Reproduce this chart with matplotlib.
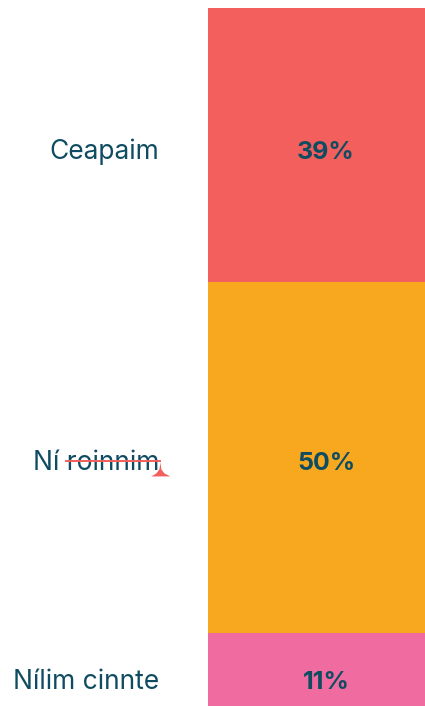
import matplotlib.pyplot as plt
from matplotlib.patches import Polygon

labels = ["Ceapaim", "Ní roinnim", "Nílim cinnte"]
values = [39.3, 50.3, 10.4]
pct_text = ["39%", "50%", "11%"]
colors = ["#F25F5C", "#F8A81E", "#F06BA0"]
text_color = "#0F4C61"

W, H = 425, 706
fig = plt.figure(figsize=(W / 100, H / 100), dpi=100)
# bar runs past the right edge of the canvas, as in the original
ax = fig.add_axes([208 / W, 0, 236 / W, 1 - 8 / H])
ax.set_xlim(0, 1)
ax.set_ylim(sum(values), 0)
ax.axis("off")

bottom = 0
centers = []
for v, c in zip(values, colors):
    ax.bar(0.5, v, width=1.0, bottom=bottom, color=c, edgecolor="none")
    centers.append(bottom + v / 2)
    bottom += v

# vertical nudges in points (labels sit a bit below segment centre)
nudge = [-5, -4, -9]
label_objs = []
for lab, pct, y, dy in zip(labels, pct_text, centers, nudge):
    ax.annotate(pct, (0.5, y), xytext=(0, dy), textcoords="offset points",
                ha="center", va="center", fontsize=18, fontweight="bold",
                family="Inter", color=text_color)
    t = ax.annotate(lab, (0, y), xytext=(-35, dy), textcoords="offset points",
                    ha="right", va="center", fontsize=19, family="Inter",
                    color=text_color, annotation_clip=False)
    label_objs.append(t)

# red strike-through over "roinnim" with a little pointer
fig.canvas.draw()
r = fig.canvas.get_renderer()
bb = label_objs[1].get_window_extent(r)
probe = fig.text(0, 0, "roinnim", fontsize=19, family="Inter")
w = probe.get_window_extent(r).width
probe.remove()
ymid = bb.y0 + bb.height * 0.5 + 2
x0, x1 = bb.x1 - w - 1, bb.x1 + 1
fig.add_artist(plt.Line2D([x0 / W, x1 / W], [ymid / H, ymid / H],
                          color="#F25F5C", lw=1.4, transform=fig.transFigure))
pts = [(0, 0), (1, -7), (4, -11), (10, -14), (-9, -14), (-4, -11), (-1, -7)]
tri = Polygon([((x1 + dx) / W, (ymid - 1 + dy) / H) for dx, dy in pts],
              closed=True, facecolor="#F25F5C", edgecolor="none",
              transform=fig.transFigure)
fig.add_artist(tri)

fig.savefig("out.png", dpi=100)
